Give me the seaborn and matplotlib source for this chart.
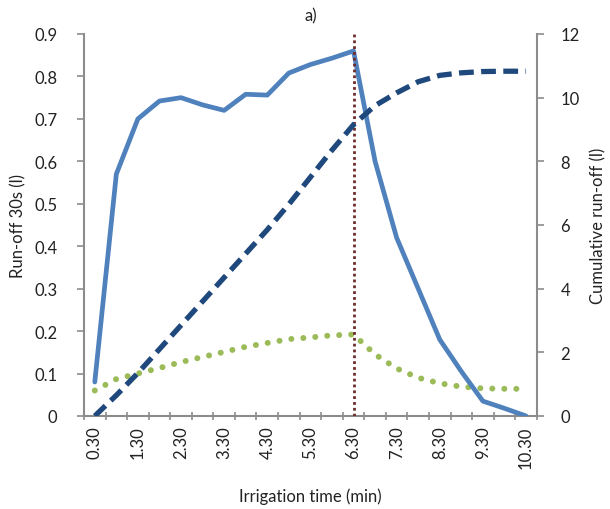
import numpy as np
import pandas as pd
import matplotlib
matplotlib.use("Agg")
import matplotlib.pyplot as plt
import seaborn as sns
from matplotlib.ticker import FixedLocator

# ---- data -------------------------------------------------------------
times = ["0.30", "1.00", "1.30", "2.00", "2.30", "3.00", "3.30", "4.00", "4.30",
         "5.00", "5.30", "6.00", "6.30", "7.00", "7.30", "8.00", "8.30", "9.00",
         "9.30", "10.00", "10.30"]
runoff_30s = [0.08, 0.57, 0.70, 0.742, 0.75, 0.733, 0.72, 0.758, 0.756,
              0.808, 0.828, 0.843, 0.86, 0.60, 0.42, 0.30, 0.18, 0.105,
              0.035, 0.018, 0.0]
green_series = [0.06, 0.087, 0.10, 0.113, 0.127, 0.139, 0.151, 0.163, 0.172,
                 0.181, 0.185, 0.19, 0.192, 0.145, 0.112, 0.09, 0.077, 0.069,
                 0.065, 0.064, 0.064]
cumulative = [0.0, 0.65, 1.35, 2.1, 2.85, 3.6, 4.35, 5.1, 5.85, 6.65, 7.5,
              8.35, 9.15, 9.75, 10.15, 10.5, 10.7, 10.78, 10.82, 10.83, 10.83]
label_times = times[::2]
irrigation_stop = "6.30"
left_ticks = [0, 0.1, 0.2, 0.3, 0.4, 0.5, 0.6, 0.7, 0.8, 0.9]
right_ticks = [0, 2, 4, 6, 8, 10, 12]

# ---- style ------------------------------------------------------------
sns.set_theme(style="white")
plt.rcParams["font.family"] = ["Lato", "DejaVu Sans"]

pos = np.arange(len(times))
df = pd.DataFrame({"pos": pos, "time": times, "runoff": runoff_30s,
                   "green": green_series, "cum": cumulative})

fig = plt.figure(figsize=(6.1, 5.1), dpi=100)
ax = fig.add_axes([0.1377, 0.1824, 0.880 - 0.1377, 0.9314 - 0.1824])
ax2 = ax.twinx()

axis_grey = "#8C8C8C"
text_col = "#222222"

sns.lineplot(data=df, x="pos", y="green", ax=ax, color="#9BBB59",
             linewidth=4.3, linestyle=(0, (0.01, 2.0)),
             dash_capstyle="round", solid_capstyle="round", zorder=2)
sns.lineplot(data=df, x="pos", y="runoff", ax=ax, color="#4F81BD",
             linewidth=3.4, solid_joinstyle="round", solid_capstyle="round",
             zorder=3)
sns.lineplot(data=df, x="pos", y="cum", ax=ax2, color="#1F497D",
             linewidth=3.8, linestyle=(0, (2.8, 1.4)), dash_capstyle="butt",
             zorder=3)

stop_idx = times.index(irrigation_stop)
ax.axvline(pos[stop_idx], color="#6E2B2B", linewidth=2.0,
           linestyle=(0, (1, 1.1)), zorder=4)

ax.set_xlim(-0.5, len(times) - 0.5)
ax.set_ylim(0, 0.9)
ax2.set_ylim(0, 12)

ax.xaxis.set_major_locator(FixedLocator(pos[::2]))
ax.set_xticklabels(label_times, rotation=90)
ax.xaxis.set_minor_locator(FixedLocator(np.arange(len(times) + 1) - 0.5))
ax.tick_params(axis="x", which="major", length=0, pad=7, labelsize=12,
               labelcolor=text_col)
ax.tick_params(axis="x", which="minor", length=6, width=1.2, color=axis_grey,
               direction="inout", bottom=True)

ax.set_yticks(left_ticks)
ax.set_yticklabels([("0" if v == 0 else f"{v:.1f}") for v in left_ticks])
ax.tick_params(axis="y", length=5, width=1.2, color=axis_grey, left=True,
               labelsize=12, labelcolor=text_col, pad=14)
ax2.set_yticks(right_ticks)
ax2.tick_params(axis="y", length=5, width=1.2, color=axis_grey, right=True,
                labelsize=12, labelcolor=text_col, pad=12)

for a in (ax, ax2):
    a.spines["top"].set_visible(False)
    for s in ("left", "right", "bottom"):
        a.spines[s].set_color(axis_grey)
        a.spines[s].set_linewidth(1.5)
ax.spines["right"].set_visible(False)
ax2.spines["left"].set_visible(False)
ax2.spines["bottom"].set_visible(False)

ax.set_xlabel("Irrigation time (min)", fontsize=12, color=text_col, labelpad=14)
ax.set_ylabel("Run-off 30s (l)", fontsize=12, color=text_col, labelpad=6)
ax2.set_ylabel("Cumulative run-off (l)", fontsize=12, color=text_col,
               labelpad=8)
ax.set_title("a)", fontsize=12, color=text_col, pad=10)

fig.savefig("out.png", dpi=100)
